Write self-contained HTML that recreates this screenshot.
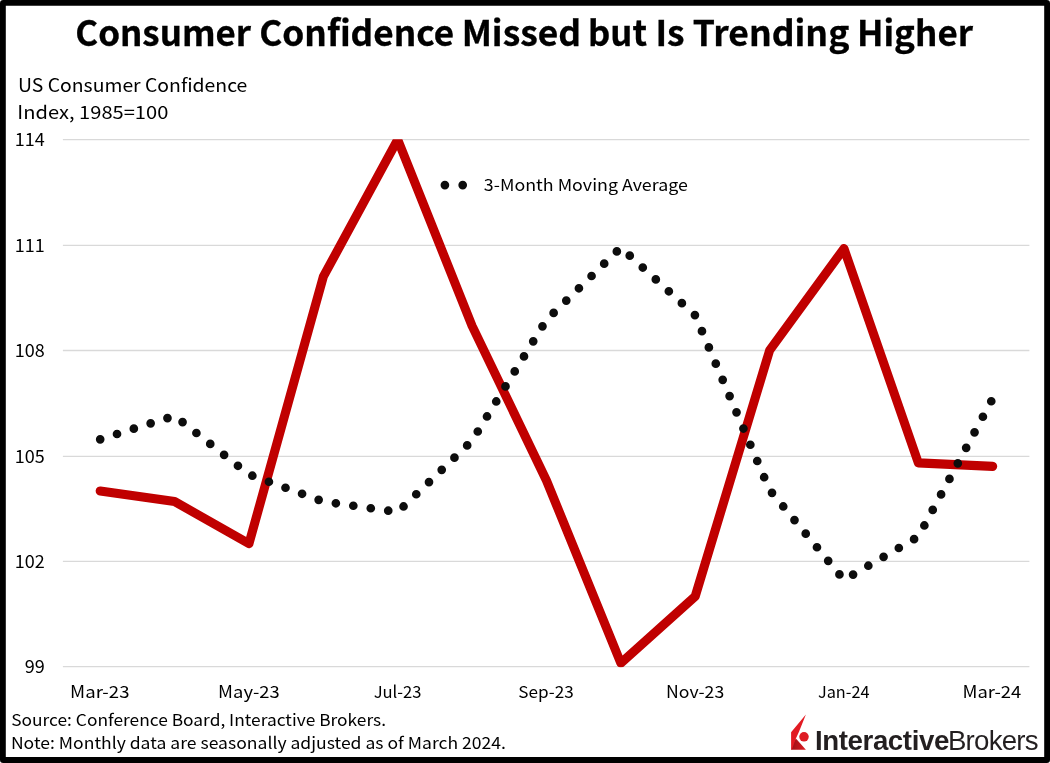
<!DOCTYPE html>
<html lang="en"><head><meta charset="utf-8"><title>Consumer Confidence Missed but Is Trending Higher</title>
<style>
html,body{margin:0;padding:0;background:#fff;}
body{width:1050px;height:763px;overflow:hidden;}
svg{display:block;}
.cal{font-family:"Noto Sans CJK SC","Liberation Sans",sans-serif;fill:#000;}
.tit{font-family:"Noto Sans CJK SC","Liberation Sans",sans-serif;font-weight:700;fill:#000;stroke:#000;stroke-width:0.3px;}
.lib{font-family:"Liberation Sans",sans-serif;fill:#231f20;}
</style></head><body>
<svg width="1050" height="763" viewBox="0 0 1050 763">
<rect width="1050" height="763" fill="#fff"/>
<path fill="#000" fill-rule="evenodd" d="M3.2 0H1046.8A3.2 3.2 0 0 1 1050 3.2V759.8A3.2 3.2 0 0 1 1046.8 763H3.2A3.2 3.2 0 0 1 0 759.8V3.2A3.2 3.2 0 0 1 3.2 0ZM5.8 5.8V756.9H1044.2V5.8Z"/>
<defs><clipPath id="plot"><rect x="62" y="139.2" width="968" height="528.1"/></clipPath></defs>

<g class="tit" font-size="34.8">
<text transform="translate(75.25 46.3) scale(1.0034 1)">Consumer </text>
<text transform="translate(259.23 46.3) scale(1.0111 1)">Confidence </text>
<text transform="translate(461.70 46.3) scale(1.0171 1)">Missed </text>
<text transform="translate(588.01 46.3) scale(0.9957 1)">but </text>
<text transform="translate(655.45 46.3) scale(1.0164 1)">Is </text>
<text transform="translate(692.73 46.3) scale(1.0217 1)">Trending </text>
<text transform="translate(856.98 46.3) scale(1.0059 1)">Higher</text>
</g>
<text class="cal" transform="translate(18.00 91.70) scale(1.0656 1)" font-size="18.2" text-anchor="start">US Consumer Confidence</text>
<text class="cal" transform="translate(17.34 118.50) scale(1.1041 1)" font-size="18.2" text-anchor="start">Index, 1985=100</text>
<line x1="62.9" x2="1029.4" y1="139.65" y2="139.65" stroke="#d9d9d9" stroke-width="1.3"/>
<text class="cal" transform="translate(44.86 146.10) scale(1.0354 1)" font-size="17.4" text-anchor="end">114</text>
<line x1="62.9" x2="1029.4" y1="245.40" y2="245.40" stroke="#d9d9d9" stroke-width="1.3"/>
<text class="cal" transform="translate(44.86 251.85) scale(1.0354 1)" font-size="17.4" text-anchor="end">111</text>
<line x1="62.9" x2="1029.4" y1="350.50" y2="350.50" stroke="#d9d9d9" stroke-width="1.3"/>
<text class="cal" transform="translate(44.86 356.95) scale(1.0354 1)" font-size="17.4" text-anchor="end">108</text>
<line x1="62.9" x2="1029.4" y1="456.30" y2="456.30" stroke="#d9d9d9" stroke-width="1.3"/>
<text class="cal" transform="translate(44.86 462.75) scale(1.0354 1)" font-size="17.4" text-anchor="end">105</text>
<line x1="62.9" x2="1029.4" y1="561.45" y2="561.45" stroke="#d9d9d9" stroke-width="1.3"/>
<text class="cal" transform="translate(44.86 567.90) scale(1.0354 1)" font-size="17.4" text-anchor="end">102</text>
<line x1="62.9" x2="1029.4" y1="666.65" y2="666.65" stroke="#d9d9d9" stroke-width="1.3"/>
<text class="cal" transform="translate(44.86 673.10) scale(1.0354 1)" font-size="17.4" text-anchor="end">99</text>
<text class="cal" transform="translate(99.78 697.90) scale(1.1213 1)" font-size="16.6" text-anchor="middle">Mar-23</text>
<text class="cal" transform="translate(248.93 697.90) scale(1.1084 1)" font-size="16.6" text-anchor="middle">May-23</text>
<text class="cal" transform="translate(397.57 697.90) scale(1.0012 1)" font-size="16.6" text-anchor="middle">Jul-23</text>
<text class="cal" transform="translate(546.12 697.90) scale(1.0349 1)" font-size="16.6" text-anchor="middle">Sep-23</text>
<text class="cal" transform="translate(695.10 697.90) scale(1.0643 1)" font-size="16.6" text-anchor="middle">Nov-23</text>
<text class="cal" transform="translate(843.70 697.90) scale(0.9817 1)" font-size="16.6" text-anchor="middle">Jan-24</text>
<text class="cal" transform="translate(991.83 697.90) scale(1.1112 1)" font-size="16.6" text-anchor="middle">Mar-24</text>
<g clip-path="url(#plot)"><polyline points="100.20,490.98 174.57,501.52 248.95,543.68 323.32,276.67 397.70,139.65 472.07,325.86 546.45,480.44 620.83,663.14 695.20,596.38 769.58,350.45 843.95,248.56 918.33,462.88 992.70,466.39" fill="none" stroke="#c00000" stroke-width="9.05" stroke-linecap="round" stroke-linejoin="round"/></g>
<polyline points="100.20,439.34 174.57,415.80 248.95,474.47 323.32,501.52 397.70,512.06 472.07,440.74 546.45,319.88 620.83,247.51 695.20,315.32 769.58,489.93 843.95,579.87 918.33,536.66 992.70,398.58" fill="none" stroke="#0d0d0d" stroke-width="8.7" stroke-linecap="round" stroke-linejoin="round" stroke-dasharray="0 17.636"/>
<line x1="444.9" x2="470" y1="185.1" y2="185.1" stroke="#0d0d0d" stroke-width="8.7" stroke-linecap="round" stroke-dasharray="0 17.8"/>
<text class="cal" transform="translate(483.85 190.70) scale(1.0943 1)" font-size="16.3" text-anchor="start">3-Month Moving Average</text>
<text class="cal" transform="translate(11.14 725.70) scale(1.0651 1)" font-size="16.3" text-anchor="start">Source: Conference Board, Interactive Brokers.</text>
<text class="cal" transform="translate(10.89 748.90) scale(1.0774 1)" font-size="16.3" text-anchor="start">Note: Monthly data are seasonally adjusted as of March 2024.</text>
<defs><linearGradient id="lg" gradientUnits="userSpaceOnUse" x1="792" y1="746" x2="804" y2="749"><stop offset="0" stop-color="#a31218"/><stop offset="1" stop-color="#d51a21"/></linearGradient></defs>
<g>
<polygon points="791.3,749.7 805.9,749.7 795.9,738.6 792.5,744" fill="url(#lg)"/>
<polygon points="805.9,714.6 791.1,732.2 791.1,749.7 791.8,749.7 795.9,738.6 799.1,731.6" fill="#e21b23"/>
<circle cx="804" cy="736.85" r="4.75" fill="#de1c24"/>
</g>
<text class="lib" x="815.00" y="749.8" font-size="27.65" font-weight="700" letter-spacing="-0.4">Interactive</text>
<text class="lib" x="947.90" y="749.8" font-size="27.65" letter-spacing="-0.75">Brokers</text>
</svg></body></html>
